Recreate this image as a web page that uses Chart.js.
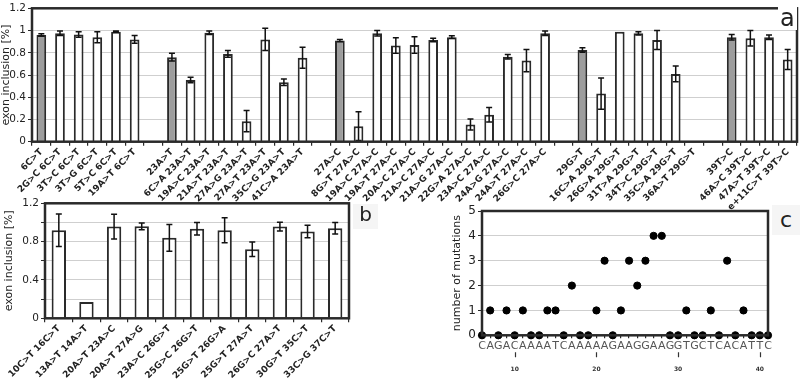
<!DOCTYPE html>
<html>
<head>
<meta charset="utf-8">
<script src="https://cdn.jsdelivr.net/npm/chart.js@4.4.1/dist/chart.umd.min.js"></script>
<style>
  body { margin: 0; background: #fff; width: 800px; height: 381px; position: relative; overflow: hidden; font-family: "DejaVu Sans", sans-serif; }
  canvas { position: absolute; }
  .tag { position: absolute; color: #222; line-height: 1; font-family: "DejaVu Sans", sans-serif; }
</style>
</head>
<body>
<canvas id="chartA" width="800" height="220" style="left:0;top:0"></canvas>
<canvas id="chartB" width="380" height="191" style="left:0;top:190px"></canvas>
<canvas id="chartC" width="360" height="191" style="left:440px;top:190px"></canvas>
<div class="tag" style="left:778px;top:6px;font-size:24px;background:#fff;padding:0 2px">a</div>
<div class="tag" style="left:353px;top:204px;width:25px;height:25px;font-size:20px;background:#f5f5f5;text-align:center">b</div>
<div class="tag" style="left:772px;top:205px;width:28px;height:30px;font-size:22px;background:#f5f5f5;text-align:center;padding-top:4px;box-sizing:border-box">c</div>
<script>
// panel a - single mutants and double mutants, grouped by base mutation
const aLabels = ["6C>T", "2G>C 6C>T", "3T>C 6C>T", "3T>G 6C>T", "5T>C 6C>T", "19A>T 6C>T", "",
  "23A>T", "6C>A 23A>T", "19A>C 23A>T", "21A>T 23A>T", "27A>G 23A>T", "27A>T 23A>T", "35C>G 23A>T", "41C>A 23A>T", "",
  "27A>C", "8G>T 27A>C", "19A>C 27A>C", "19A>T 27A>C", "20A>C 27A>C", "21A>C 27A>C", "21A>G 27A>C", "22G>A 27A>C", "23A>C 27A>C", "24A>G 27A>C", "24A>T 27A>C", "26G>C 27A>C", "",
  "29G>T", "16C>A 29G>T", "26G>A 29G>T", "31T>A 29G>T", "34T>C 29G>T", "35C>A 29G>T", "36A>T 29G>T", "",
  "39T>C", "46A>C 39T>C", "47A>T 39T>C", "e+11C>T 39T>C"];
const aValues = [0.96, 0.975, 0.965, 0.94, 0.99, 0.92, null,
  0.76, 0.555, 0.98, 0.79, 0.185, 0.92, 0.535, 0.755, null,
  0.91, 0.14, 0.975, 0.865, 0.87, 0.915, 0.94, 0.155, 0.243, 0.765, 0.73, 0.975, null,
  0.825, 0.433, 0.99, 0.975, 0.915, 0.61, null, null,
  0.94, 0.93, 0.94, 0.74];
const aErrors = [0.01, 0.02, 0.025, 0.05, 0.005, 0.035, null,
  0.035, 0.025, 0.015, 0.03, 0.095, 0.1, 0.03, 0.095, null,
  0.01, 0.13, 0.025, 0.07, 0.075, 0.015, 0.012, 0.05, 0.065, 0.02, 0.1, 0.02, null,
  0.02, 0.14, 0, 0.015, 0.085, 0.07, null, null,
  0.025, 0.07, 0.02, 0.09];

// panel b
const bLabels = ["10C>T 16C>T", "13A>T 14A>T", "20A>T 23A>C", "20A>T 27A>G", "23A>C 26G>T", "25G>C 26G>T",
  "25G>T 26G>A", "25G>T 27A>T", "26G>C 27A>T", "30G>T 35C>T", "33C>G 37C>T"];
const bValues = [0.918, 0.17, 0.957, 0.96, 0.84, 0.935, 0.918, 0.72, 0.957, 0.905, 0.94];
const bErrors = [0.17, 0, 0.13, 0.035, 0.14, 0.065, 0.13, 0.075, 0.045, 0.065, 0.06];

// panel c - mutations per position
const cPositions = [6, 7, 8, 9, 10, 11, 12, 13, 14, 15, 16, 17, 18, 19, 20, 21, 22, 23, 24, 25, 26, 27, 28, 29, 30, 31, 32, 33, 34, 35, 36, 37, 38, 39, 40, 41];
const cBases = ["C", "A", "G", "A", "C", "A", "A", "A", "A", "T", "C", "A", "A", "A", "A", "A", "G", "A", "A", "G", "G", "A", "A", "G", "G", "T", "G", "C", "T", "C", "A", "C", "A", "T", "T", "C"];
const cCounts = [0, 1, 0, 1, 0, 1, 0, 0, 1, 1, 0, 2, 0, 0, 1, 3, 0, 1, 3, 2, 3, 4, 4, 0, 0, 1, 0, 0, 1, 0, 3, 0, 1, 0, 0, 0];

const DARK = "#2a2a2a";
const GRID = "#cfcfcf";

// error bars drawn from the y scale
const errorBars = {
  id: "errorBars",
  afterDatasetsDraw(chart, args, opts) {
    if (!opts.errors) return;
    const ctx = chart.ctx;
    const y = chart.scales.y;
    const vals = chart.data.datasets[0].data;
    chart.getDatasetMeta(0).data.forEach((bar, i) => {
      const e = opts.errors[i];
      if (vals[i] == null || !e) return;
      const top = y.getPixelForValue(vals[i] + e);
      const bot = y.getPixelForValue(vals[i] - e);
      ctx.save();
      ctx.strokeStyle = "#111";
      ctx.lineWidth = 1.5;
      ctx.beginPath();
      ctx.moveTo(bar.x, top); ctx.lineTo(bar.x, bot);
      ctx.moveTo(bar.x - 3, top); ctx.lineTo(bar.x + 3, top);
      ctx.moveTo(bar.x - 3, bot); ctx.lineTo(bar.x + 3, bot);
      ctx.stroke();
      ctx.restore();
    });
  }
};

// box round the plot area
const frame = {
  id: "frame",
  afterDraw(chart) {
    const { left, top, right, bottom } = chart.chartArea;
    const ctx = chart.ctx;
    ctx.save();
    ctx.strokeStyle = DARK;
    ctx.lineWidth = 2.5;
    ctx.strokeRect(left, top, right - left, bottom - top);
    ctx.restore();
  }
};

// small marks above the position numbers of panel c
const positionMarks = {
  id: "positionMarks",
  afterDraw(chart) {
    const s = chart.scales.x2;
    if (!s) return;
    const ctx = chart.ctx;
    ctx.save();
    ctx.strokeStyle = "#333";
    ctx.lineWidth = 1.2;
    ctx.beginPath();
    s.ticks.forEach(t => {
      if (t.value % 10 !== 0) return;
      const x = Math.round(s.getPixelForValue(t.value)) + 0.5;
      ctx.moveTo(x, s.top + 1);
      ctx.lineTo(x, s.top + 6);
    });
    ctx.stroke();
    ctx.restore();
  }
};

const fmt = v => String(+v.toFixed(1));

function barOptions(yWidth, xHeight, pad, yCallback, errors) {
  return {
    responsive: false,
    animation: false,
    layout: { padding: pad },
    plugins: { legend: { display: false }, tooltip: { enabled: false }, errorBars: { errors: errors } },
    scales: {
      x: {
        grid: { drawOnChartArea: false, color: DARK, tickLength: 4, lineWidth: 1.2 },
        border: { display: false },
        ticks: { color: "#222", font: { family: "DejaVu Sans", size: 9, weight: "bold" }, maxRotation: 45, minRotation: 45, autoSkip: false, padding: 1 },
        afterFit(scale) { scale.height = xHeight; }
      },
      y: {
        min: 0, max: 1.2,
        grid: { color: GRID, tickLength: 4, tickColor: DARK },
        border: { display: false },
        ticks: { stepSize: 0.2, color: "#222", font: { family: "DejaVu Sans", size: 10.5 }, padding: 2, callback: yCallback },
        title: { display: true, text: "exon inclusion [%]", color: "#222", font: { family: "DejaVu Sans", size: 11 }, padding: { top: 0, bottom: 2 } },
        afterFit(scale) { scale.width = yWidth; }
      }
    }
  };
}

new Chart(document.getElementById("chartA"), {
  type: "bar",
  data: {
    labels: aLabels,
    datasets: [{
      data: aValues,
      backgroundColor: aLabels.map(l => l.includes(" ") ? "#ffffff" : "#9d9d9d"),
      borderColor: DARK,
      borderWidth: 2,
      categoryPercentage: 1,
      barPercentage: 0.52
    }]
  },
  options: barOptions(32, 78.3, { top: 5, right: 3, left: 0, bottom: 0 }, fmt, aErrors),
  plugins: [errorBars, frame]
});

new Chart(document.getElementById("chartB"), {
  type: "bar",
  data: {
    labels: bLabels,
    datasets: [{
      data: bValues,
      backgroundColor: "#ffffff",
      borderColor: DARK,
      borderWidth: 2,
      categoryPercentage: 1,
      barPercentage: 0.52
    }]
  },
  options: barOptions(42, 62.7, { top: 13.3, right: 31, left: 3, bottom: 0 },
    v => (Math.round(v * 10) % 4 === 0 ? fmt(v) : ""), bErrors),
  plugins: [errorBars, frame]
});

new Chart(document.getElementById("chartC"), {
  type: "scatter",
  data: {
    datasets: [{
      data: cPositions.map((p, i) => ({ x: p, y: cCounts[i] })),
      backgroundColor: "#000",
      borderColor: "#000",
      pointRadius: 3.6,
      clip: false
    }]
  },
  options: {
    responsive: false,
    animation: false,
    layout: { padding: { top: 21, right: 32, left: 11, bottom: 0 } },
    plugins: { legend: { display: false }, tooltip: { enabled: false } },
    scales: {
      x: {
        type: "linear", min: 6, max: 41,
        grid: { drawOnChartArea: false, color: DARK, tickLength: 3, lineWidth: 1.2 },
        border: { display: false },
        ticks: {
          stepSize: 1, autoSkip: false, maxRotation: 0, padding: 1,
          color: "#555", font: { family: "DejaVu Sans", size: 11 },
          callback: v => cBases[cPositions.indexOf(v)] || ""
        },
        afterFit(scale) { scale.height = 16; }
      },
      x2: {
        type: "linear", position: "bottom", min: 6, max: 41,
        grid: { display: false },
        border: { display: false },
        ticks: {
          stepSize: 1, autoSkip: false, maxRotation: 0, padding: 7,
          color: "#333", font: { family: "DejaVu Sans", size: 6, weight: "bold" },
          callback: v => (v % 10 === 0 ? String(v) : "")
        },
        afterFit(scale) { scale.height = 29.7; }
      },
      y: {
        min: 0, max: 5,
        grid: { color: GRID, tickLength: 4, tickColor: DARK },
        border: { display: false },
        ticks: { stepSize: 1, color: "#222", font: { family: "DejaVu Sans", size: 12 }, padding: 2 },
        title: { display: true, text: "number of mutations", color: "#222", font: { family: "DejaVu Sans", size: 11 }, padding: { top: 0, bottom: 2 } },
        afterFit(scale) { scale.width = 31; }
      }
    }
  },
  plugins: [frame, positionMarks]
});
</script>
</body>
</html>
